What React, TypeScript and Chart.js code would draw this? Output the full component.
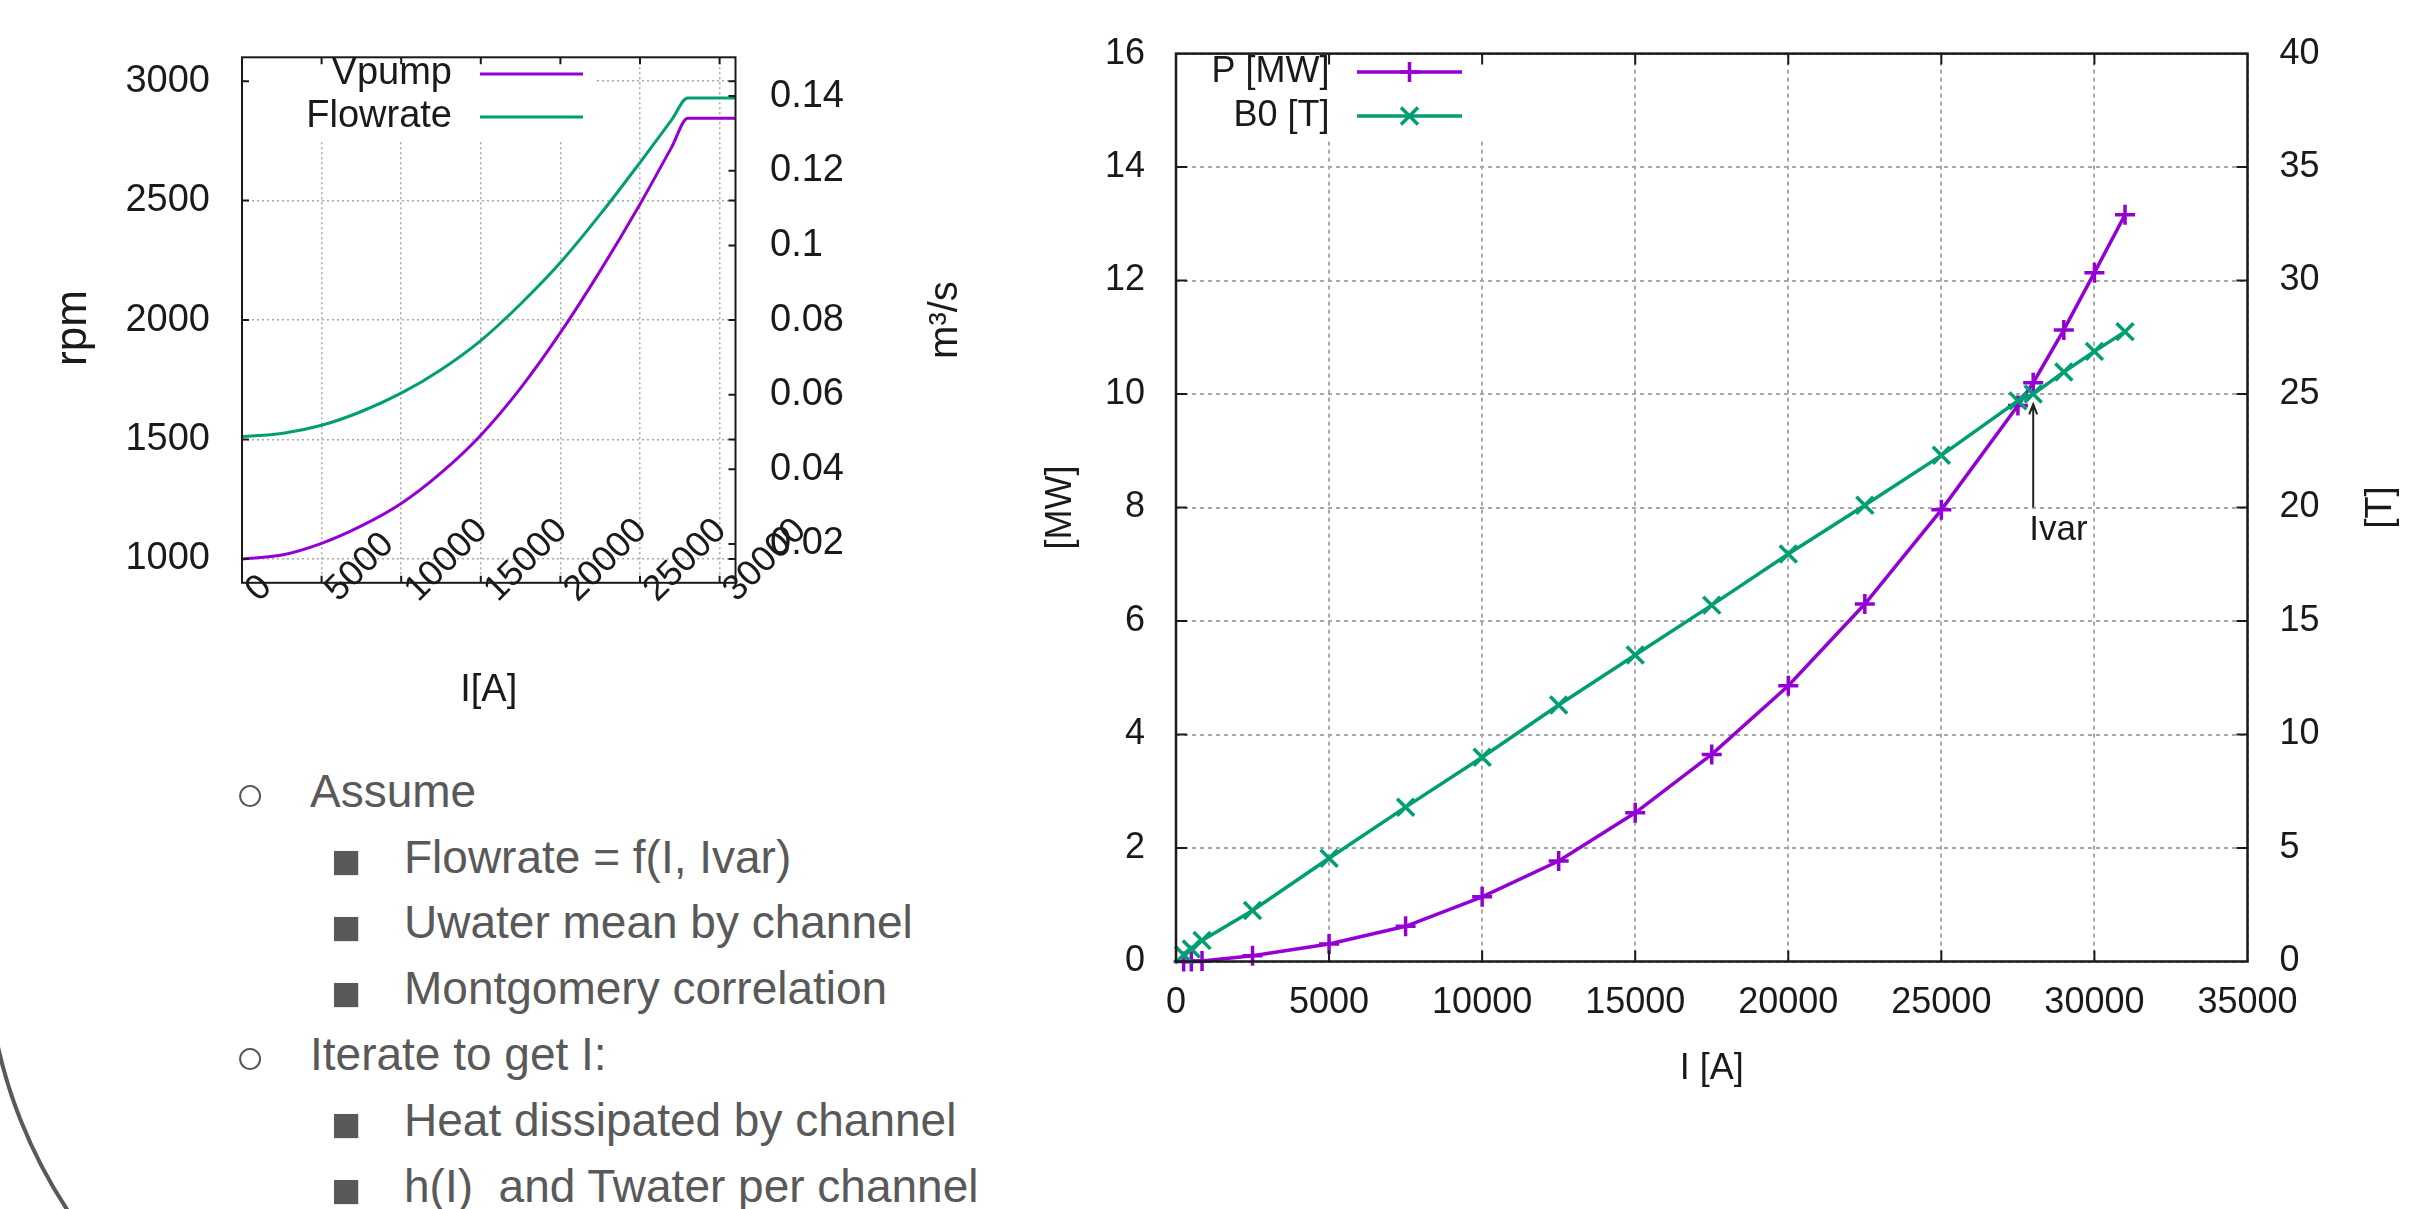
import React, { useEffect, useRef } from "react";
import { Chart, registerables } from "chart.js";

Chart.register(...registerables);

// ---------------- Left chart data: pump speed and flowrate vs current ----------------
const leftCurrentA = [0, 2500, 5000, 7500, 10000, 12500, 15000, 17500, 20000, 22500, 25000, 27000, 28000, 31000];
const vpumpRpm = [1000, 1016, 1065, 1138, 1232, 1360, 1518, 1715, 1947, 2206, 2485, 2725, 2845, 2845];
const flowrateM3s = [0.0488, 0.0496, 0.0518, 0.0555, 0.0604, 0.0667, 0.0745, 0.0843, 0.0954, 0.1083, 0.1222, 0.1337, 0.1395, 0.1395];
const leftXRange = [0, 31000];
const leftXTicks = [0, 5000, 10000, 15000, 20000, 25000, 30000];
const rpmRange = [900, 3100];
const rpmTicks = [1000, 1500, 2000, 2500, 3000];
const flowRange = [0.0096, 0.1504];
const flowTicks = [0.02, 0.04, 0.06, 0.08, 0.1, 0.12, 0.14];
const leftLabels = { x: "I[A]", y: "rpm", y2: "m³/s", s1: "Vpump", s2: "Flowrate" };

// ---------------- Right chart data: power and field vs current ----------------
const rightCurrentA = [250, 500, 850, 2500, 5000, 7500, 10000, 12500, 15000, 17500, 20000, 22500, 25000, 27500, 28000, 29000, 30000, 31000];
const powerMW = [0.0, 0.0, 0.01, 0.1, 0.31, 0.62, 1.14, 1.77, 2.62, 3.65, 4.86, 6.3, 7.96, 9.8, 10.2, 11.13, 12.14, 13.16];
const b0Tesla = [0.3, 0.55, 0.93, 2.25, 4.55, 6.8, 9.0, 11.3, 13.5, 15.7, 17.95, 20.1, 22.3, 24.7, 25.0, 25.97, 26.88, 27.75];
const rightXRange = [0, 35000];
const rightXTicks = [0, 5000, 10000, 15000, 20000, 25000, 30000, 35000];
const mwRange = [0, 16];
const mwTicks = [0, 2, 4, 6, 8, 10, 12, 14, 16];
const teslaRange = [0, 40];
const teslaTicks = [0, 5, 10, 15, 20, 25, 30, 35, 40];
const rightLabels = { x: "I [A]", y: "[MW]", y2: "[T]", s1: "P [MW]", s2: "B0 [T]" };
const ivarCurrentA = 28000;
const ivarArrowMW = [8.0, 9.82];
const ivarLabelMW = 7.42;
const ivarLabel = "Ivar";

// ---------------- Slide text ----------------
const slideBullets = [
  { level: 1, text: "Assume" },
  { level: 2, text: "Flowrate = f(I, Ivar)" },
  { level: 2, text: "Uwater mean by channel" },
  { level: 2, text: "Montgomery correlation" },
  { level: 1, text: "Iterate to get I:" },
  { level: 2, text: "Heat dissipated by channel" },
  { level: 2, text: "h(I)  and Twater per channel" },
];

const FONT = '"Liberation Sans", Arial, Helvetica, sans-serif';
const PURPLE = "#9400d3";
const GREEN = "#009e73";
const AXIS = "#1a1a1a";
const GRID = "#a8a8a8";
const TEXT = "#1a1a1a";
const SLIDE_TEXT = "#595959";

Chart.defaults.font.family = FONT;
Chart.defaults.color = TEXT;

function pts(xs: number[], ys: number[]) {
  return xs.map((x, i) => ({ x, y: ys[i] }));
}

function fixedTicks(values: number[]) {
  return (scale: any) => {
    scale.ticks = values.map((v) => ({ value: v }));
  };
}

function drawMarker(ctx: CanvasRenderingContext2D, style: string, x: number, y: number, r: number) {
  ctx.beginPath();
  if (style === "cross") {
    ctx.moveTo(x - r, y);
    ctx.lineTo(x + r, y);
    ctx.moveTo(x, y - r);
    ctx.lineTo(x, y + r);
  } else if (style === "crossRot") {
    const d = r * Math.SQRT1_2;
    ctx.moveTo(x - d, y - d);
    ctx.lineTo(x + d, y + d);
    ctx.moveTo(x - d, y + d);
    ctx.lineTo(x + d, y - d);
  }
  ctx.stroke();
}

function drawText(ctx: CanvasRenderingContext2D, text: string, x: number, y: number, size: number, rot = 0, align: CanvasTextAlign = "center", baseline: CanvasTextBaseline = "middle") {
  ctx.save();
  ctx.translate(x, y);
  ctx.rotate(rot);
  ctx.font = `${size}px ${FONT}`;
  ctx.fillStyle = TEXT;
  ctx.textAlign = align;
  ctx.textBaseline = baseline;
  ctx.fillText(text, 0, 0);
  ctx.restore();
}

type Decor = {
  legend: { boxRight: number; boxBottom: number; textRight: number; lineX0: number; lineX1: number; rows: number[]; fontSize: number };
  tickLen: number;
  tickWidth: number;
  frameWidth: number;
  mirrorY: boolean;
  titles: (chart: any) => void;
  extra?: (chart: any) => void;
};

function makeDecor(id: string, d: Decor) {
  return {
    id,
    afterDraw(chart: any) {
      const { ctx, chartArea: a, scales } = chart;
      // legend with opaque background
      const L = d.legend;
      ctx.save();
      ctx.fillStyle = "#ffffff";
      ctx.fillRect(a.left + 2, a.top + 2, L.boxRight - a.left - 2, L.boxBottom - a.top - 2);
      chart.data.datasets.forEach((ds: any, i: number) => {
        const y = L.rows[i];
        drawText(ctx, ds.label, L.textRight, y, L.fontSize, 0, "right", "middle");
        ctx.strokeStyle = ds.borderColor;
        ctx.lineWidth = ds.borderWidth;
        ctx.setLineDash([]);
        ctx.beginPath();
        ctx.moveTo(L.lineX0, y);
        ctx.lineTo(L.lineX1, y);
        ctx.stroke();
        if (ds.pointRadius > 0) drawMarker(ctx, ds.pointStyle, (L.lineX0 + L.lineX1) / 2, y, ds.pointRadius);
      });
      ctx.restore();

      // inward ticks + frame
      ctx.save();
      ctx.strokeStyle = AXIS;
      ctx.lineWidth = d.tickWidth;
      ctx.setLineDash([]);
      ctx.beginPath();
      const xs = scales.x;
      xs.ticks.forEach((t: any) => {
        const p = xs.getPixelForValue(t.value);
        if (p < a.left + 1 || p > a.right - 1) return;
        ctx.moveTo(p, a.bottom);
        ctx.lineTo(p, a.bottom - d.tickLen);
        ctx.moveTo(p, a.top);
        ctx.lineTo(p, a.top + d.tickLen);
      });
      const ys = scales.y;
      ys.ticks.forEach((t: any) => {
        const p = ys.getPixelForValue(t.value);
        if (p < a.top + 1 || p > a.bottom - 1) return;
        ctx.moveTo(a.left, p);
        ctx.lineTo(a.left + d.tickLen, p);
        if (d.mirrorY) {
          ctx.moveTo(a.right, p);
          ctx.lineTo(a.right - d.tickLen, p);
        }
      });
      const y2 = scales.y2;
      y2.ticks.forEach((t: any) => {
        const p = y2.getPixelForValue(t.value);
        if (p < a.top + 1 || p > a.bottom - 1) return;
        ctx.moveTo(a.right, p);
        ctx.lineTo(a.right - d.tickLen, p);
      });
      ctx.stroke();
      ctx.lineWidth = d.frameWidth;
      ctx.strokeRect(a.left, a.top, a.right - a.left, a.bottom - a.top);
      ctx.restore();

      d.titles(chart);
      if (d.extra) d.extra(chart);
    },
  };
}

function leftConfig(): any {
  const gridDash = [2, 3];
  const decor = makeDecor("leftDecor", {
    legend: { boxRight: 595, boxBottom: 140, textRight: 452, lineX0: 480, lineX1: 583, rows: [74, 117], fontSize: 38 },
    tickLen: 7,
    tickWidth: 2,
    frameWidth: 2,
    mirrorY: true,
    titles: (chart) => {
      const { ctx, chartArea: a } = chart;
      drawText(ctx, leftLabels.y, a.left - 168, 328, 44, -Math.PI / 2);
      drawText(ctx, leftLabels.y2, a.right + 210, (a.top + a.bottom) / 2, 40, -Math.PI / 2);
      drawText(ctx, leftLabels.x, (a.left + a.right) / 2, a.bottom + 108, 38);
    },
    extra: (chart) => {
      const { ctx, chartArea: a, scales } = chart;
      const xs = scales.x;
      xs.ticks.forEach((t: any) => {
        const p = xs.getPixelForValue(t.value);
        drawText(ctx, String(t.value), p + 17, a.bottom + 20, 36, -Math.PI / 4, "left", "alphabetic");
      });
    },
  });
  return {
    type: "line",
    data: {
      datasets: [
        { label: leftLabels.s1, data: pts(leftCurrentA, vpumpRpm), yAxisID: "y", borderColor: PURPLE, borderWidth: 3, pointRadius: 0, cubicInterpolationMode: "monotone", fill: false },
        { label: leftLabels.s2, data: pts(leftCurrentA, flowrateM3s), yAxisID: "y2", borderColor: GREEN, borderWidth: 3, pointRadius: 0, cubicInterpolationMode: "monotone", fill: false },
      ],
    },
    options: {
      animation: false,
      responsive: false,
      maintainAspectRatio: false,
      layout: { padding: { top: 46.6, left: 0, right: 0, bottom: 0 } },
      plugins: { legend: { display: false }, tooltip: { enabled: false } },
      scales: {
        x: {
          type: "linear",
          min: leftXRange[0],
          max: leftXRange[1],
          afterBuildTicks: fixedTicks(leftXTicks),
          afterFit: (s: any) => { s.height = 157.2; },
          ticks: { display: false },
          grid: { color: GRID, lineWidth: 1.5, drawTicks: false },
          border: { display: false, dash: gridDash },
        },
        y: {
          type: "linear",
          position: "left",
          min: rpmRange[0],
          max: rpmRange[1],
          afterBuildTicks: fixedTicks(rpmTicks),
          afterFit: (s: any) => { s.width = 242; },
          ticks: { padding: 32, color: TEXT, font: { size: 38, family: FONT }, callback: (v: any) => String(v) },
          grid: { color: GRID, lineWidth: 1.5, drawTicks: false },
          border: { display: false, dash: gridDash },
        },
        y2: {
          type: "linear",
          position: "right",
          min: flowRange[0],
          max: flowRange[1],
          afterBuildTicks: fixedTicks(flowTicks),
          afterFit: (s: any) => { s.width = 264.5; },
          ticks: { padding: 34.5, color: TEXT, font: { size: 38, family: FONT }, callback: (v: any) => String(v) },
          grid: { display: false, drawTicks: false },
          border: { display: false },
        },
      },
    },
    plugins: [decor],
  };
}

function rightConfig(): any {
  const gridDash = [4, 4];
  const decor = makeDecor("rightDecor", {
    legend: { boxRight: 490, boxBottom: 140, textRight: 329.5, lineX0: 357, lineX1: 462, rows: [72, 116], fontSize: 36 },
    tickLen: 11,
    tickWidth: 2,
    frameWidth: 2.5,
    mirrorY: false,
    titles: (chart) => {
      const { ctx, chartArea: a } = chart;
      const midY = (a.top + a.bottom) / 2;
      drawText(ctx, rightLabels.y, a.left - 115, midY, 36, -Math.PI / 2);
      drawText(ctx, rightLabels.y2, a.right + 134, midY, 36, -Math.PI / 2);
      drawText(ctx, rightLabels.x, (a.left + a.right) / 2, a.bottom + 107.5, 36);
    },
    extra: (chart) => {
      const { ctx, scales } = chart;
      const px = scales.x.getPixelForValue(ivarCurrentA);
      const yBot = scales.y.getPixelForValue(ivarArrowMW[0]);
      const yTop = scales.y.getPixelForValue(ivarArrowMW[1]);
      ctx.save();
      ctx.strokeStyle = "#222";
      ctx.lineWidth = 2;
      ctx.beginPath();
      ctx.moveTo(px, yBot);
      ctx.lineTo(px, yTop);
      ctx.moveTo(px - 4, yTop + 10);
      ctx.lineTo(px, yTop);
      ctx.lineTo(px + 4, yTop + 10);
      ctx.stroke();
      ctx.restore();
      drawText(ctx, ivarLabel, px - 4, scales.y.getPixelForValue(ivarLabelMW), 35, 0, "left", "alphabetic");
    },
  });
  return {
    type: "line",
    data: {
      datasets: [
        {
          label: rightLabels.s1, data: pts(rightCurrentA, powerMW), yAxisID: "y", order: 1, clip: 24,
          borderColor: PURPLE, backgroundColor: PURPLE, borderWidth: 3.5, tension: 0, fill: false,
          pointStyle: "cross", pointRadius: 10, pointBorderWidth: 3.5, pointBorderColor: PURPLE, pointBackgroundColor: PURPLE,
        },
        {
          label: rightLabels.s2, data: pts(rightCurrentA, b0Tesla), yAxisID: "y2", order: 0, clip: 24,
          borderColor: GREEN, backgroundColor: GREEN, borderWidth: 3.5, tension: 0, fill: false,
          pointStyle: "crossRot", pointRadius: 12, pointBorderWidth: 3.5, pointBorderColor: GREEN, pointBackgroundColor: GREEN,
        },
      ],
    },
    options: {
      animation: false,
      responsive: false,
      maintainAspectRatio: false,
      layout: { padding: { top: 40, left: 0, right: 0, bottom: 0 } },
      plugins: { legend: { display: false }, tooltip: { enabled: false } },
      scales: {
        x: {
          type: "linear",
          min: rightXRange[0],
          max: rightXRange[1],
          afterBuildTicks: fixedTicks(rightXTicks),
          afterFit: (s: any) => { s.height = 168.5; },
          ticks: { autoSkip: false, maxRotation: 0, minRotation: 0, padding: 19.5, color: TEXT, font: { size: 36, family: FONT }, callback: (v: any) => String(v) },
          grid: { color: GRID, lineWidth: 2, drawTicks: false },
          border: { display: false, dash: gridDash },
        },
        y: {
          type: "linear",
          position: "left",
          min: mwRange[0],
          max: mwRange[1],
          afterBuildTicks: fixedTicks(mwTicks),
          afterFit: (s: any) => { s.width = 176; },
          ticks: { padding: 31, color: TEXT, font: { size: 36, family: FONT }, callback: (v: any) => String(v) },
          grid: { color: GRID, lineWidth: 2, drawTicks: false },
          border: { display: false, dash: gridDash },
        },
        y2: {
          type: "linear",
          position: "right",
          min: teslaRange[0],
          max: teslaRange[1],
          afterBuildTicks: fixedTicks(teslaTicks),
          afterFit: (s: any) => { s.width = 164.5; },
          ticks: { padding: 32, color: TEXT, font: { size: 36, family: FONT }, callback: (v: any) => String(v) },
          grid: { display: false, drawTicks: false },
          border: { display: false },
        },
      },
    },
    plugins: [decor],
  };
}

function ChartCanvas(props: { make: () => any; left: number; top: number; width: number; height: number }) {
  const ref = useRef<HTMLCanvasElement>(null);
  useEffect(() => {
    const chart = new Chart(ref.current as HTMLCanvasElement, props.make());
    return () => chart.destroy();
  }, []);
  return (
    <canvas
      ref={ref}
      width={props.width}
      height={props.height}
      style={{ position: "absolute", left: props.left, top: props.top, width: props.width, height: props.height }}
    />
  );
}

export default function App() {
  const firstBaseline = 806.7;
  const lineStep = 65.8;
  const bulletSize = 50;
  return (
    <div style={{ position: "absolute", left: 0, top: 0, width: 2412, height: 1209, background: "#ffffff", overflow: "hidden", fontFamily: FONT }}>
      <svg width={2412} height={1209} style={{ position: "absolute", left: 0, top: 0 }}>
        <path d="M -10.2 1000 A 492 492 0 0 0 81.3 1230" stroke={SLIDE_TEXT} strokeWidth={4} fill="none" />
      </svg>
      <ChartCanvas make={leftConfig} left={0} top={0} width={1000} height={740} />
      <ChartCanvas make={rightConfig} left={1000} top={0} width={1412} height={1130} />
      {slideBullets.map((b, i) => {
        const baseline = firstBaseline + i * lineStep;
        const bulletCenterX = b.level === 1 ? 250 : 346;
        const bulletCenterY = baseline - (b.level === 1 ? 12.7 : 11.6);
        const textLeft = b.level === 1 ? 310 : 404;
        return (
          <React.Fragment key={i}>
            <div style={{ position: "absolute", left: bulletCenterX - 0.3 * bulletSize, top: bulletCenterY - 0.4995 * bulletSize, fontSize: bulletSize, lineHeight: `${bulletSize}px`, color: SLIDE_TEXT, whiteSpace: "pre" }}>
              {b.level === 1 ? "○" : "■"}
            </div>
            <div style={{ position: "absolute", left: textLeft, top: baseline - 38.9, fontSize: 46, lineHeight: "46px", color: SLIDE_TEXT, whiteSpace: "pre" }}>
              {b.text}
            </div>
          </React.Fragment>
        );
      })}
    </div>
  );
}
